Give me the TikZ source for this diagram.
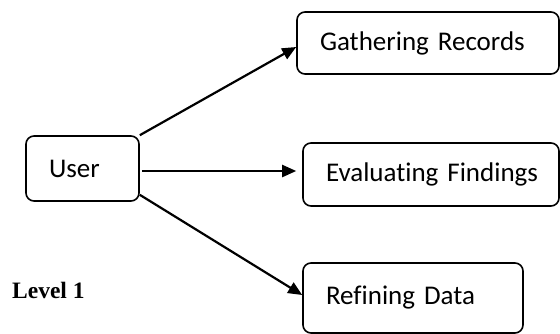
\documentclass[tikz,border=0pt]{standalone}
\usepackage{fontspec}
\setmainfont[Ligatures=CommonOff]{Carlito}
\newfontfamily\levelfont{Liberation Serif}
\usetikzlibrary{arrows.meta,calc}

\tikzset{
  stagebox/.style={draw=black, line width=1.6pt, rounded corners=8pt,
    inner xsep=23pt, inner ysep=0pt, align=left,
    font=\fontsize{27}{32}\selectfont},
  arr/.style={line width=2.2pt, -{Triangle[length=14pt,width=12pt]}},
}

\begin{document}
\begin{tikzpicture}[x=1pt, y=-1pt]
  \useasboundingbox (0,0) rectangle (560,333);

  % user box and the three activities
  \node[stagebox, text width=67pt, minimum height=65pt] (user) at (82.5,168.5) {\mbox{User}};
  \node[stagebox, text width=216pt, minimum height=62pt] (gath) at (428,43) {\mbox{Gathering Records}};
  \node[stagebox, text width=210pt, minimum height=63pt] (eval) at (431,174.5) {\mbox{Evaluating Findings}};
  \node[stagebox, text width=174pt, minimum height=70pt] (ref) at (413,298) {\mbox{Refining Data}};

  % level caption
  \node[anchor=west, inner sep=0pt, font=\levelfont\bfseries\fontsize{23.5}{28}\selectfont] (lvl) at (12,290) {Level 1};

  % connectors
  \coordinate (uE) at ([yshift=-2.5pt]user.east);
  \draw[arr] (user.north east) -- ([yshift=-4pt]gath.west);
  \draw[arr, shorten <=2pt, shorten >=6pt] (uE) -- (uE -| eval.west);
  \draw[arr] ([yshift=7pt]user.south east) -- ([yshift=3pt]ref.west);
\end{tikzpicture}
\end{document}
